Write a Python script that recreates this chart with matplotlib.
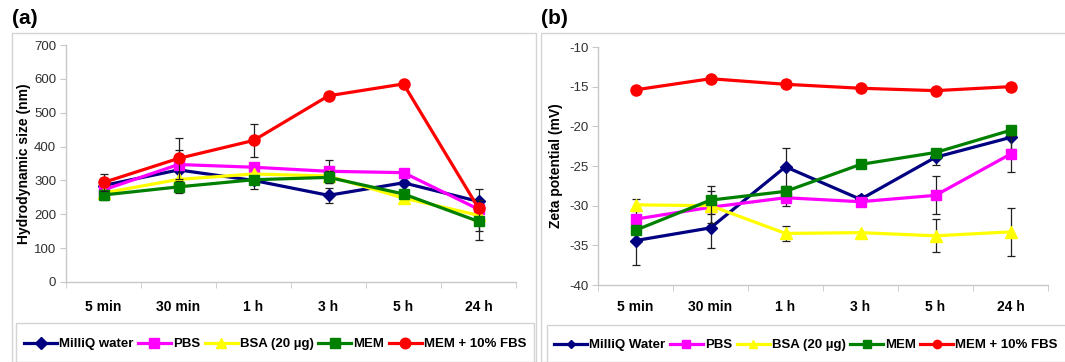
import matplotlib
matplotlib.use('Agg')
import matplotlib.pyplot as plt
from matplotlib.patches import Rectangle
from matplotlib.lines import Line2D
import numpy as np

plt.rcParams['font.family'] = ['Liberation Sans', 'DejaVu Sans']
plt.rcParams['axes.unicode_minus'] = False

# ---------------- data ----------------
times = ['5 min', '30 min', '1 h', '3 h', '5 h', '24 h']

labels_a = ['MilliQ water', 'PBS', 'BSA (20 µg)', 'MEM', 'MEM + 10% FBS']
labels_b = ['MilliQ Water', 'PBS', 'BSA (20 µg)', 'MEM', 'MEM + 10% FBS']

# (a) hydrodynamic size (nm)
size_milliq = [285, 331, 300, 256, 293, 238]
size_pbs    = [272, 347, 339, 327, 323, 215]
size_bsa    = [263, 303, 319, 313, 248, 197]
size_mem    = [257, 281, 302, 309, 260, 179]
size_fbs    = [294, 365, 418, 550, 585, 218]

size_err_milliq = [23, 60, 26, 22, 0, 37]
size_err_pbs    = [0, 0, 0, 34, 0, 0]
size_err_bsa    = [8, 0, 0, 14, 16, 45]
size_err_mem    = [14, 17, 0, 18, 0, 54]
size_err_fbs    = [24, 60, 49, 0, 0, 0]

# (b) zeta potential (mV)
zeta_milliq = [-34.4, -32.8, -25.1, -29.2, -23.9, -21.4]
zeta_pbs    = [-31.7, -30.2, -29.0, -29.5, -28.7, -23.5]
zeta_bsa    = [-29.9, -30.0, -33.5, -33.4, -33.8, -33.3]
zeta_mem    = [-33.1, -29.3, -28.2, -24.8, -23.3, -20.5]
zeta_fbs    = [-15.4, -14.0, -14.7, -15.2, -15.5, -15.0]

zeta_err_milliq = [3.1, 2.5, 2.4, 0.6, 1.0, 1.4]
zeta_err_pbs    = [1.0, 2.0, 1.1, 0.4, 2.4, 2.3]
zeta_err_bsa    = [0.7, 0.0, 0.95, 0.0, 2.1, 3.0]
zeta_err_mem    = [0.5, 1.8, 0.5, 0.0, 0.0, 0.0]
zeta_err_fbs    = [0, 0, 0, 0, 0, 0]

colors = ['#000080', '#FF00FF', '#FFFF00', '#008000', '#FF0000']
markers = ['D', 's', '^', 's', 'o']
msizes = [6, 7.5, 8, 7, 8]

W, H = 1065, 362
fig = plt.figure(figsize=(W / 100, H / 100), dpi=100)

def fx(px):
    return px / W

def fy(py):
    return 1 - py / H

# panel frames and legend boxes (figure-level)
frame_col = '#d4d4d4'
for (x0, y0, x1, y1) in [(12, 33, 536, 362), (541, 33, 1075, 362)]:
    fig.patches.append(Rectangle((fx(x0), fy(y1)), fx(x1 - x0), fy(y0) - fy(y1),
                                 transform=fig.transFigure, fill=False,
                                 edgecolor=frame_col, lw=1.0))
for (x0, y0, x1, y1) in [(16, 323, 534, 370), (547, 325, 1075, 370)]:
    fig.patches.append(Rectangle((fx(x0), fy(y1)), fx(x1 - x0), fy(y0) - fy(y1),
                                 transform=fig.transFigure, fill=False,
                                 edgecolor=frame_col, lw=1.0))

fig.text(fx(12), fy(18), '(a)', fontsize=15, fontweight='bold', va='center', ha='left')
fig.text(fx(541), fy(18), '(b)', fontsize=15, fontweight='bold', va='center', ha='left')

x = np.arange(len(times))

def setup_axes(ax, ylim, yticks, ylabel, labelpad_pts):
    ax.set_xlim(-0.5, len(times) - 0.5)
    ax.set_ylim(*ylim)
    ax.set_yticks(yticks)
    for s in ['top', 'right']:
        ax.spines[s].set_visible(False)
    ax.spines['left'].set_color('#c8c8c8')
    ax.spines['bottom'].set_color('#c8c8c8')
    ax.spines['left'].set_linewidth(1.0)
    ax.spines['bottom'].set_linewidth(1.0)
    ax.set_xticks(x)
    ax.set_xticklabels(times, fontsize=10, fontweight='bold')
    ax.set_xticks(np.arange(-0.5, len(times) + 0.5, 1.0), minor=True)
    ax.tick_params(axis='x', which='major', length=0, pad=labelpad_pts)
    ax.tick_params(axis='x', which='minor', length=4, color='#c8c8c8', direction='out')
    ax.tick_params(axis='y', length=4, color='#c8c8c8', labelsize=9.5,
                   labelcolor='#303030', pad=3)
    ax.set_ylabel(ylabel, fontsize=10, fontweight='bold')
    ax.patch.set_alpha(0)

def draw(ax, ys, errs):
    for i, (yv, ev) in enumerate(zip(ys, errs)):
        yv = np.array(yv, float)
        ev = np.array(ev, float)
        m = ev > 0
        if m.any():
            ax.errorbar(x[m], yv[m], yerr=ev[m], fmt='none', ecolor='#202020',
                        elinewidth=0.9, capsize=3, capthick=0.9, zorder=1.5 + i)
        ax.plot(x, yv, color=colors[i], lw=2.3, marker=markers[i],
                markersize=msizes[i], markeredgecolor=colors[i],
                markerfacecolor=colors[i], zorder=2 + i)

# ---- panel (a)
ax1 = fig.add_axes([fx(66), fy(282), fx(516 - 66), fy(45) - fy(282)])
draw(ax1, [size_milliq, size_pbs, size_bsa, size_mem, size_fbs],
     [size_err_milliq, size_err_pbs, size_err_bsa, size_err_mem, size_err_fbs])
setup_axes(ax1, (0, 700), np.arange(0, 701, 100), 'Hydrodynamic size (nm)', 13)
ax1.yaxis.set_label_coords(-0.078, 0.5)

# ---- panel (b)
ax2 = fig.add_axes([fx(598), fy(285), fx(1048 - 598), fy(47) - fy(285)])
draw(ax2, [zeta_milliq, zeta_pbs, zeta_bsa, zeta_mem, zeta_fbs],
     [zeta_err_milliq, zeta_err_pbs, zeta_err_bsa, zeta_err_mem, zeta_err_fbs])
setup_axes(ax2, (-40, -10), np.arange(-40, -9, 5), 'Zeta potential (mV)', 11)
ax2.yaxis.set_label_coords(-0.078, 0.5)

def make_handles(ms_scale):
    return [Line2D([0], [0], color=c, lw=2.3, marker=m, markersize=s * ms_scale,
                   markerfacecolor=c, markeredgecolor=c)
            for c, m, s in zip(colors, markers, msizes)]

leg_kw = dict(ncol=5, frameon=False, handlelength=2.5, handletextpad=0.15,
              columnspacing=0.35, borderaxespad=0, borderpad=0,
              prop={'weight': 'bold', 'size': 9.5})
fig.legend(make_handles(0.95), labels_a, loc='center',
           bbox_to_anchor=(fx(275), fy(344)), **leg_kw)
fig.legend(make_handles(0.75), labels_b, loc='center',
           bbox_to_anchor=(fx(806), fy(345)), **leg_kw)

fig.savefig('out.png', dpi=100)
